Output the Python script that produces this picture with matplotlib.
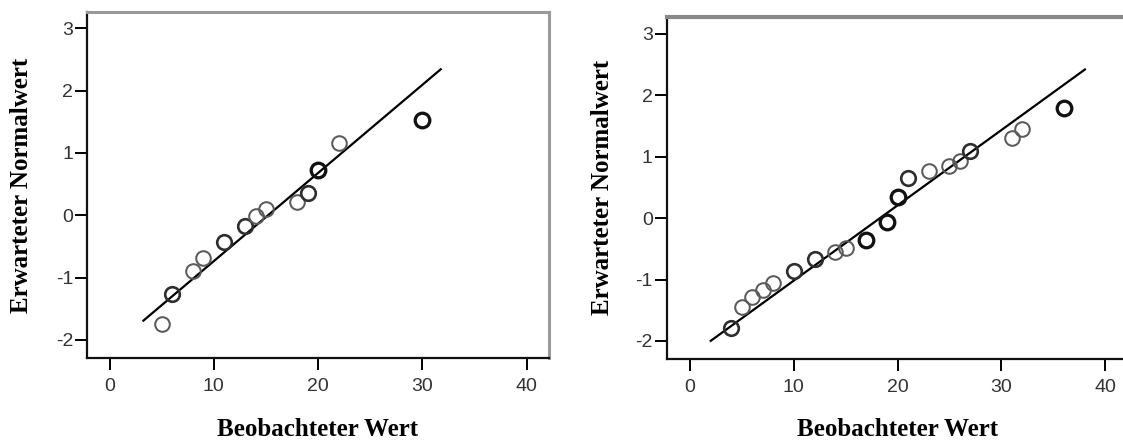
import numpy as np
import matplotlib
matplotlib.use("Agg")
import matplotlib.pyplot as plt

plt.rcParams["axes.unicode_minus"] = False

# left panel: observed value, expected normal value, tie weight (1 = single)
left_obs = [5, 6, 8, 9, 11, 13, 14, 15, 18, 19, 20, 22, 30]
left_exp = [-1.74, -1.26, -0.90, -0.68, -0.43, -0.17, -0.01, 0.10, 0.21, 0.36, 0.73, 1.16, 1.53]
left_ties = [1, 2, 1, 1, 2, 2, 1, 1, 1, 2, 3, 1, 3]
left_line_x = [3.25, 31.75]
left_mean, left_sd = 15.2, 7.07

# right panel
right_obs = [4, 5, 6, 7, 8, 10, 12, 14, 15, 17, 19, 20, 21, 23, 25, 26, 27, 31, 32, 36]
right_exp = [-1.79, -1.45, -1.28, -1.17, -1.05, -0.86, -0.66, -0.55, -0.49, -0.35,
             -0.06, 0.34, 0.65, 0.76, 0.85, 0.93, 1.09, 1.31, 1.45, 1.79]
right_ties = [2, 1, 1, 1, 1, 2, 2, 1, 1, 3, 3, 3, 2, 1, 1, 1, 2, 1, 1, 3]
right_line_x = [2.0, 38.05]
right_mean, right_sd = 18.3, 8.16

xticks = [0, 10, 20, 30, 40]
yticks = [-2, -1, 0, 1, 2, 3]

W, H = 1123, 443
fig = plt.figure(figsize=(W / 100, H / 100), dpi=100)


def make_axes(x0, y0, x1, y1):
    # pixel box (top-left origin) -> figure fraction
    return fig.add_axes([x0 / W, 1 - y1 / H, (x1 - x0) / W, (y1 - y0) / H])


def draw_panel(ax, obs, exp, ties, line_x, mean, sd, xlim, ylim, ylab_x):
    lx = np.array(line_x)
    ax.plot(lx, (lx - mean) / sd, color="black", lw=1.6, zorder=2)
    for x, y, t in zip(obs, exp, ties):
        col = {1: "#5a5a5a", 2: "#2e2e2e", 3: "#111111"}[t]
        ax.plot(x, y, "o", ms=10.5, mfc="none", mec=col, mew=1.0 + 0.45 * t, zorder=3)
    ax.set_xlim(*xlim)
    ax.set_ylim(*ylim)
    ax.set_xticks(xticks)
    ax.set_yticks(yticks)
    ax.tick_params(direction="out", length=8.5, width=1.4, color="black",
                   labelsize=14, labelcolor="#333333")
    ax.tick_params(axis="x", pad=6)
    ax.tick_params(axis="y", pad=1.5)
    for lab in ax.get_xticklabels() + ax.get_yticklabels():
        lab.set_family(["Liberation Sans", "DejaVu Sans"])
    for s in ("left", "bottom"):
        ax.spines[s].set_color("#111111")
        ax.spines[s].set_linewidth(1.6)
    for s in ("top", "right"):
        ax.spines[s].set_color("#9a9a9a")
        ax.spines[s].set_linewidth(2.2)
    lbl = dict(family=["Liberation Serif", "DejaVu Serif"], weight="bold", size=18)
    ax.set_xlabel("Beobachteter Wert", va="center", **lbl)
    ax.set_ylabel("Erwarteter Normalwert", va="center", **lbl)
    ax.xaxis.set_label_coords(0.5, -0.208)
    ax.yaxis.set_label_coords(ylab_x, 0.5)


ax1 = make_axes(87, 12, 549, 358)
draw_panel(ax1, left_obs, left_exp, left_ties, left_line_x, left_mean, left_sd,
           (-2.16, 42.13), (-2.29, 3.26), -0.142)

ax2 = make_axes(666.6, 16.7, 1129, 358.5)
draw_panel(ax2, right_obs, right_exp, right_ties, right_line_x, right_mean, right_sd,
           (-2.25, 42.3), (-2.285, 3.28), -0.138)
ax2.spines["top"].set_linewidth(3)
ax2.spines["top"].set_color("#888888")

fig.savefig("out.png", dpi=100)
